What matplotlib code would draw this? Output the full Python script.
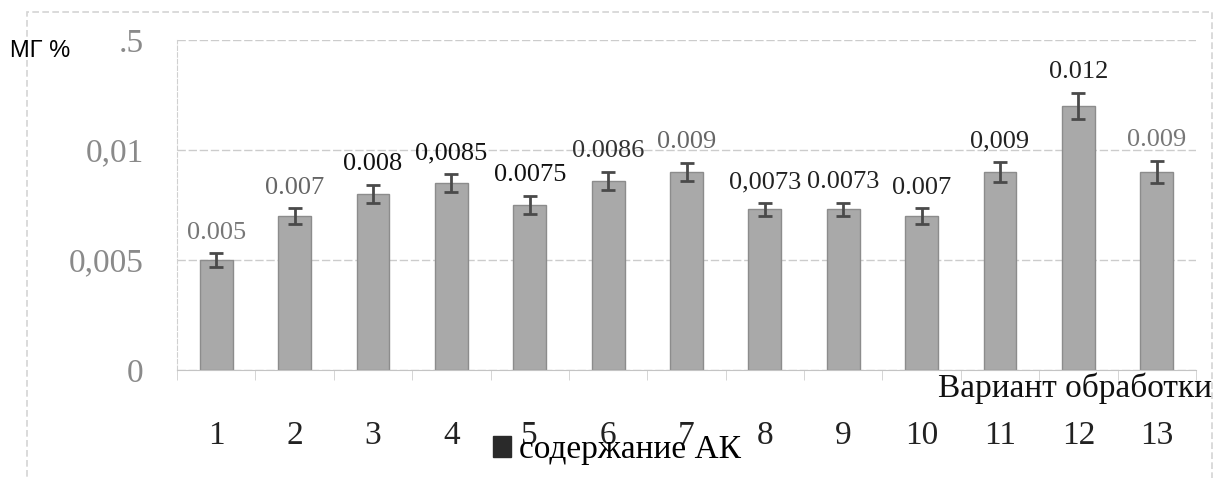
import numpy as np
import matplotlib
matplotlib.use("Agg")
import matplotlib.pyplot as plt
from matplotlib.patches import Rectangle

# данные с графика
variants = ["1", "2", "3", "4", "5", "6", "7", "8", "9", "10", "11", "12", "13"]
values = [0.005, 0.007, 0.008, 0.0085, 0.0075, 0.0086, 0.009, 0.0073, 0.0073, 0.007, 0.009, 0.012, 0.009]
errors = [0.0003, 0.00035, 0.0004, 0.0004, 0.0004, 0.0004, 0.0004, 0.0003, 0.0003, 0.00035, 0.00045, 0.0006, 0.0005]
value_labels = ["0.005", "0.007", "0.008", "0,0085", "0.0075", "0.0086", "0.009", "0,0073", "0.0073", "0.007", "0,009", "0.012", "0.009"]
label_colors = ["#777777", "#666666", "#111111", "#111111", "#111111", "#333333", "#666666",
                "#222222", "#222222", "#222222", "#222222", "#222222", "#777777"]
yticks = [0, 0.005, 0.01, 0.015]
ytick_labels = ["0", "0,005", "0,01", ".5"]

serif = "Liberation Serif"

fig = plt.figure(figsize=(12.17, 4.78), dpi=100)
fig.patch.set_facecolor("white")

# внешняя рамка (бледная, как на скане)
fig.patches.append(Rectangle((27 / 1217, -0.05), 1185 / 1217, 1.05 - 12 / 478,
                             transform=fig.transFigure, fill=False,
                             edgecolor="#d4d4d4", linewidth=1.2, linestyle=(0, (4, 2))))

ax = fig.add_axes([177 / 1217, 108 / 478, 1019 / 1217, 330 / 478])
x = np.arange(len(variants))

bars = ax.bar(x, values, width=0.42, color="#a9a9a9", edgecolor="#8c8c8c", linewidth=1.0,
              label="содержание АК", zorder=2)
ax.errorbar(x, values, yerr=errors, fmt="none", ecolor="#4a4a4a", elinewidth=2,
            capsize=5, capthick=2, zorder=3)

for xi, v, e, txt, c in zip(x, values, errors, value_labels, label_colors):
    ax.annotate(txt, (xi, v + e), xytext=(0, 7), textcoords="offset points",
                ha="center", va="bottom", fontsize=19, family=serif, color=c)

ax.set_xlim(-0.5, len(variants) - 0.5)
ax.set_ylim(0, 0.015)
ax.set_yticks(yticks)
ax.set_yticklabels(ytick_labels, family=serif, fontsize=24, color="#8a8a8a")
ax.set_xticks(x)
ax.set_xticklabels(variants, family=serif, fontsize=24, color="#222222")
ax.set_xticks(np.arange(len(variants) + 1) - 0.5, minor=True)
ax.tick_params(axis="y", length=0, pad=24)
ax.tick_params(axis="x", which="major", length=0, pad=36)
ax.tick_params(axis="x", which="minor", length=7, color="#cfcfcf")

ax.grid(axis="y", color="#cccccc", linewidth=1, linestyle=(0, (6, 2)), zorder=0)
for s in ["top", "right"]:
    ax.spines[s].set_visible(False)
ax.spines["left"].set_color("#d0d0d0")
ax.spines["left"].set_linestyle((0, (4, 2)))
ax.spines["bottom"].set_color("#c4c4c4")

fig.text(1212 / 1217, 1 - 388 / 478, "Вариант обработки", ha="right", va="center",
         family=serif, fontsize=24, color="#111111")
fig.text(10 / 1217, 1 - 51 / 478, "МГ %", ha="left", va="center",
         family="Liberation Sans", fontsize=17, color="black")

leg = fig.legend(handles=[bars], labels=["содержание АК"], loc="center left",
                 bbox_to_anchor=(476 / 1217, 1 - 450 / 478), frameon=False,
                 prop={"family": serif, "size": 24}, handlelength=0.55, handleheight=0.55,
                 handletextpad=0.25, borderpad=0)
for h in leg.legend_handles:
    h.set_facecolor("#2a2a2a")
    h.set_edgecolor("#2a2a2a")

plt.savefig("out.png", dpi=100)
